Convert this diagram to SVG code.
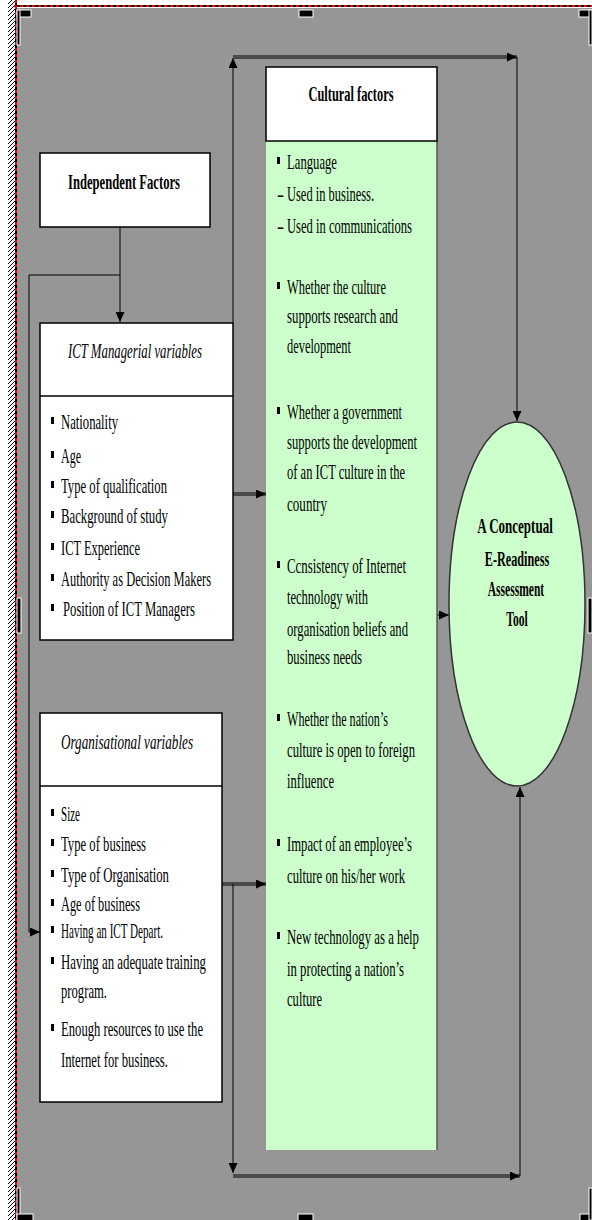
<svg xmlns="http://www.w3.org/2000/svg" width="592" height="1220" viewBox="0 0 592 1220">
<style>
.t{font-family:"Liberation Serif","Times New Roman",serif;font-size:21px;fill:#000}
.b{font-weight:bold;font-size:21px}
.i{font-style:italic}
.box{fill:#fff;stroke:#000;stroke-width:1.5}
.thin{fill:none;stroke:#000;stroke-width:1}
.thick{fill:none;stroke:#4a4a4a;stroke-width:4}
.handle{fill:#000;stroke:#fff;stroke-width:1}
</style>
<defs>
<pattern id="hatch" width="4" height="4" patternUnits="userSpaceOnUse">
<rect width="4" height="4" fill="#fff"/>
<path d="M-1,5 L5,-1" stroke="#000" stroke-width="1"/>
</pattern>
<marker id="ah" markerWidth="10" markerHeight="9" refX="10" refY="4.5" orient="auto" markerUnits="userSpaceOnUse">
<path d="M0,0 L10,4.5 L0,9 z" fill="#000"/>
</marker>
</defs>
<rect x="0" y="0" width="592" height="1220" fill="#fff"/>
<rect x="8" y="0" width="8" height="1220" fill="url(#hatch)"/>
<rect x="17" y="8" width="575" height="1212" fill="#969696"/>
<line x1="16" y1="0" x2="16" y2="1220" stroke="#000" stroke-width="2"/>
<line x1="16" y1="0" x2="16" y2="1220" stroke="#e00" stroke-width="2" stroke-dasharray="3,3"/>
<line x1="14" y1="6" x2="592" y2="6" stroke="#000" stroke-width="2"/>
<line x1="14" y1="6" x2="592" y2="6" stroke="#e00" stroke-width="2" stroke-dasharray="3,3"/>
<g id="handles">
<rect class="handle" x="17" y="10" width="14" height="7"/>
<rect class="handle" x="17" y="10" width="3" height="35"/>
<rect class="handle" x="299" y="10" width="14" height="7"/>
<rect class="handle" x="579" y="10" width="14" height="7"/>
<rect class="handle" x="589" y="10" width="3" height="35"/>
<rect class="handle" x="17" y="598" width="4" height="35"/>
<rect class="handle" x="588" y="598" width="4" height="35"/>
<rect class="handle" x="17" y="1188" width="3" height="32"/>
<rect class="handle" x="17" y="1214" width="16" height="7"/>
<rect class="handle" x="298" y="1214" width="15" height="7"/>
<rect class="handle" x="580" y="1214" width="13" height="7"/>
<rect class="handle" x="589" y="1188" width="3" height="32"/>
</g>
<g id="connectors">
<path class="thin" d="M233,323 V58" marker-end="url(#ah)"/>
<path class="thick" d="M233,57 H517" marker-end="url(#ah)"/>
<path class="thin" d="M517,57 V421" marker-end="url(#ah)"/>
<path class="thin" d="M120,227 V322" marker-end="url(#ah)"/>
<path class="thin" d="M120,275 H29 V932 H40" marker-end="url(#ah)"/>
<path class="thick" d="M233,494 H266" marker-end="url(#ah)"/>
<path class="thick" d="M222,884 H266" marker-end="url(#ah)"/>
<path class="thin" d="M233,884 V1173" marker-end="url(#ah)"/>
<path class="thick" d="M233,1176 H520" marker-end="url(#ah)"/>
<path class="thin" d="M520,1176 V787" marker-end="url(#ah)"/>
<path class="thin" d="M437,615 H449" marker-end="url(#ah)"/>
</g>
<g id="independent">
<rect class="box" x="40" y="153" width="170" height="74"/>
<text class="t b" x="124" y="189" text-anchor="middle" textLength="112" lengthAdjust="spacingAndGlyphs">Independent Factors</text>
</g>
<g id="ict">
<rect class="box" x="40" y="323" width="193" height="317"/>
<line x1="40" y1="396" x2="233" y2="396" stroke="#000" stroke-width="1.5"/>
<text class="t i" x="135" y="358" text-anchor="middle" textLength="134" lengthAdjust="spacingAndGlyphs">ICT Managerial variables</text>
<g fill="#000">
<rect x="51" y="417" width="3" height="7"/><rect x="51" y="451" width="3" height="7"/><rect x="51" y="481" width="3" height="7"/><rect x="51" y="511" width="3" height="7"/><rect x="51" y="543" width="3" height="7"/><rect x="51" y="574" width="3" height="7"/><rect x="51" y="604" width="3" height="7"/>
</g>
<text class="t" x="61" y="429" textLength="57" lengthAdjust="spacingAndGlyphs">Nationality</text>
<text class="t" x="61" y="463" textLength="20" lengthAdjust="spacingAndGlyphs">Age</text>
<text class="t" x="61" y="493" textLength="106" lengthAdjust="spacingAndGlyphs">Type of qualification</text>
<text class="t" x="61" y="523" textLength="107" lengthAdjust="spacingAndGlyphs">Background of study</text>
<text class="t" x="61" y="555" textLength="79" lengthAdjust="spacingAndGlyphs">ICT Experience</text>
<text class="t" x="61" y="586" textLength="150" lengthAdjust="spacingAndGlyphs">Authority as Decision Makers</text>
<text class="t" x="63" y="616" textLength="132" lengthAdjust="spacingAndGlyphs">Position of ICT Managers</text>
</g>
<g id="org">
<rect class="box" x="40" y="713" width="182" height="389"/>
<line x1="40" y1="786" x2="222" y2="786" stroke="#000" stroke-width="1.5"/>
<text class="t i" x="127" y="749" text-anchor="middle" textLength="132" lengthAdjust="spacingAndGlyphs">Organisational variables</text>
<g fill="#000">
<rect x="51" y="809" width="3" height="7"/><rect x="51" y="839" width="3" height="7"/><rect x="51" y="870" width="3" height="7"/><rect x="51" y="899" width="3" height="7"/><rect x="51" y="926" width="3" height="7"/><rect x="51" y="957" width="3" height="7"/><rect x="51" y="1024" width="3" height="7"/>
</g>
<text class="t" x="61" y="821" textLength="19" lengthAdjust="spacingAndGlyphs">Size</text>
<text class="t" x="61" y="851" textLength="85" lengthAdjust="spacingAndGlyphs">Type of business</text>
<text class="t" x="61" y="882" textLength="108" lengthAdjust="spacingAndGlyphs">Type of Organisation</text>
<text class="t" x="61" y="911" textLength="79" lengthAdjust="spacingAndGlyphs">Age of business</text>
<text class="t" x="61" y="938" textLength="102" lengthAdjust="spacingAndGlyphs">Having an ICT Depart.</text>
<text class="t" x="61" y="969" textLength="145" lengthAdjust="spacingAndGlyphs">Having an adequate training</text>
<text class="t" x="61" y="998" textLength="46" lengthAdjust="spacingAndGlyphs">program.</text>
<text class="t" x="61" y="1036" textLength="142" lengthAdjust="spacingAndGlyphs">Enough resources to use the</text>
<text class="t" x="61" y="1067" textLength="107" lengthAdjust="spacingAndGlyphs">Internet for business.</text>
</g>
<g id="cultural">
<rect x="266" y="141" width="171" height="1009" fill="#ccffcc"/>
<line x1="437" y1="141" x2="437" y2="1150" stroke="#555" stroke-width="1.5"/>
<rect class="box" x="266" y="67" width="171" height="74"/>
<text class="t b" x="351" y="101" text-anchor="middle" textLength="85" lengthAdjust="spacingAndGlyphs">Cultural factors</text>
<g fill="#000">
<rect x="277" y="157" width="3" height="7"/><rect x="277" y="282" width="3" height="7"/><rect x="277" y="407" width="3" height="7"/><rect x="277" y="561" width="3" height="7"/><rect x="277" y="714" width="3" height="7"/><rect x="277" y="839" width="3" height="7"/><rect x="277" y="932" width="3" height="7"/>
</g>
<text class="t" x="287" y="169" textLength="50" lengthAdjust="spacingAndGlyphs">Language</text>
<text class="t" x="277" y="201">-</text>
<text class="t" x="287" y="201" textLength="87" lengthAdjust="spacingAndGlyphs">Used in business.</text>
<text class="t" x="277" y="233">-</text>
<text class="t" x="287" y="233" textLength="125" lengthAdjust="spacingAndGlyphs">Used in communications</text>
<text class="t" x="287" y="294" textLength="99" lengthAdjust="spacingAndGlyphs">Whether the culture</text>
<text class="t" x="287" y="323" textLength="111" lengthAdjust="spacingAndGlyphs">supports research and</text>
<text class="t" x="287" y="353" textLength="64" lengthAdjust="spacingAndGlyphs">development</text>
<text class="t" x="287" y="419" textLength="115" lengthAdjust="spacingAndGlyphs">Whether a government</text>
<text class="t" x="287" y="449" textLength="130" lengthAdjust="spacingAndGlyphs">supports the development</text>
<text class="t" x="287" y="479" textLength="118" lengthAdjust="spacingAndGlyphs">of an ICT culture in the</text>
<text class="t" x="287" y="511" textLength="40" lengthAdjust="spacingAndGlyphs">country</text>
<text class="t" x="287" y="573" textLength="119" lengthAdjust="spacingAndGlyphs">Ccnsistency of Internet</text>
<text class="t" x="287" y="604" textLength="81" lengthAdjust="spacingAndGlyphs">technology with</text>
<text class="t" x="287" y="636" textLength="121" lengthAdjust="spacingAndGlyphs">organisation beliefs and</text>
<text class="t" x="287" y="664" textLength="75" lengthAdjust="spacingAndGlyphs">business needs</text>
<text class="t" x="287" y="726" textLength="101" lengthAdjust="spacingAndGlyphs">Whether the nation’s</text>
<text class="t" x="287" y="757" textLength="128" lengthAdjust="spacingAndGlyphs">culture is open to foreign</text>
<text class="t" x="287" y="788" textLength="47" lengthAdjust="spacingAndGlyphs">influence</text>
<text class="t" x="287" y="851" textLength="125" lengthAdjust="spacingAndGlyphs">Impact of an employee’s</text>
<text class="t" x="287" y="883" textLength="118" lengthAdjust="spacingAndGlyphs">culture on his/her work</text>
<text class="t" x="287" y="944" textLength="132" lengthAdjust="spacingAndGlyphs">New technology as a help</text>
<text class="t" x="287" y="976" textLength="117" lengthAdjust="spacingAndGlyphs">in protecting a nation’s</text>
<text class="t" x="287" y="1006" textLength="35" lengthAdjust="spacingAndGlyphs">culture</text>
</g>
<g id="tool">
<ellipse cx="517" cy="604" rx="68" ry="182" fill="#ccffcc" stroke="#333" stroke-width="1.5"/>
<text class="t b" text-anchor="middle" transform="translate(515,533) scale(0.62,1)">A Conceptual</text>
<text class="t b" text-anchor="middle" transform="translate(517,566) scale(0.58,1)">E-Readiness</text>
<text class="t b" text-anchor="middle" transform="translate(516,596) scale(0.55,1)">Assessment</text>
<text class="t b" text-anchor="middle" transform="translate(517,626) scale(0.55,1)">Tool</text>
</g>
</svg>
